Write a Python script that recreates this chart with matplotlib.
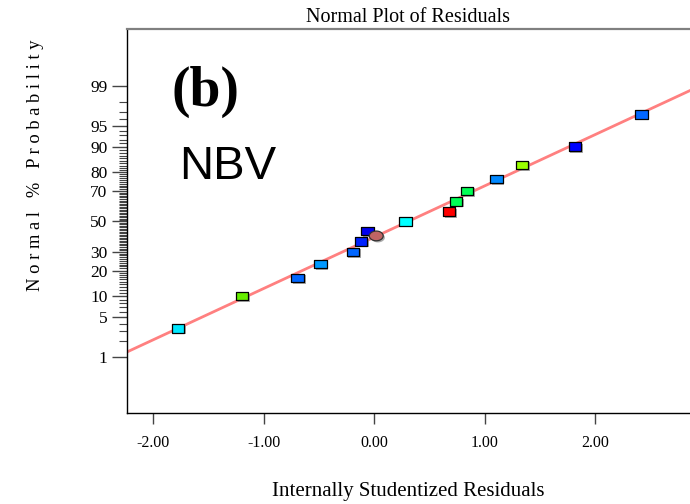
import numpy as np
import matplotlib
matplotlib.use("Agg")
import matplotlib.pyplot as plt
import matplotlib.patheffects as pe
from matplotlib.path import Path
from statistics import NormalDist

# residuals (x) and normal % probability (y)
res = [-1.776, -1.197, -0.694, -0.489, -0.193, -0.120, -0.063, 0.281,
       0.679, 0.739, 0.839, 1.107, 1.339, 1.816, 2.419]
prob = [3.33, 10.0, 16.67, 23.33, 30.0, 36.67, 43.33, 50.0,
        56.67, 63.33, 70.0, 76.67, 83.33, 90.0, 96.67]
colors = ['#00e8ff', '#66ee00', '#0066ff', '#0099ff', '#0066ff', '#0022ff', '#0000ee', '#00ffff',
          '#ff0000', '#00ff55', '#00ff55', '#0088ff', '#99ff00', '#0000ff', '#0066ff']

# the odd point drawn as a brown ellipse
odd_res = [0.018]
odd_prob = [40.2]

# reference line end points
line_res = [-2.24, 2.86]
line_prob = [1.26, 98.76]

yticks = [1, 5, 10, 20, 30, 50, 70, 80, 90, 95, 99]
xticks = [-2, -1, 0, 1, 2]

nd = NormalDist()
def fwd(p):
    p = np.clip(np.asarray(p, dtype=float) / 100.0, 1e-9, 1 - 1e-9)
    return np.vectorize(nd.inv_cdf)(p)
def inv(z):
    return np.vectorize(nd.cdf)(np.asarray(z, dtype=float)) * 100.0

plt.rcParams['font.family'] = ['Liberation Serif', 'DejaVu Serif']

fig = plt.figure(figsize=(6.9, 5.04), dpi=100)
ax = fig.add_axes([127/690, 1 - 413/504, 563/690, 384/504])
ax.set_yscale('function', functions=(fwd, inv))

ax.plot(line_res, line_prob, color='#ff8080', lw=2, zorder=2)

rect = Path([(-1, -0.68), (1, -0.68), (1, 0.68), (-1, 0.68), (-1, -0.68)],
            [Path.MOVETO, Path.LINETO, Path.LINETO, Path.LINETO, Path.CLOSEPOLY])
t = np.linspace(0, 2*np.pi, 60)
ell = Path(np.column_stack([np.cos(t), 0.7*np.sin(t)]))

shadow = [pe.SimplePatchShadow(offset=(1.2, -1.2), shadow_rgbFace='#888888', alpha=0.7), pe.Normal()]
sc = ax.scatter(res, prob, marker=rect, s=9.0**2, c=colors, edgecolors='black',
                linewidths=0.9, zorder=3)
sc.set_path_effects(shadow)
sc2 = ax.scatter(odd_res, odd_prob, marker=ell, s=10.0**2, c='#c06464', edgecolors='#333333',
                 linewidths=0.9, zorder=3)
sc2.set_path_effects(shadow)

ax.set_xlim(-2.24, 2.86)
ax.set_ylim(inv(-3.285), inv(3.30))

ax.set_yticks(yticks)
ax.set_yticklabels([str(v) for v in yticks])
ax.set_yticks([v for v in range(2, 99) if v not in yticks], minor=True)
ax.yaxis.set_minor_formatter(plt.NullFormatter())
ax.set_xticks(xticks)
ax.set_xticklabels(['%.2f' % v for v in xticks])
ax.xaxis.set_minor_locator(plt.NullLocator())

ax.tick_params(axis='y', which='major', length=11, width=1.0, color='#444444', labelsize=12.5, pad=3)
ax.tick_params(axis='y', which='minor', length=5.5, width=0.8, color='#444444')
ax.tick_params(axis='x', which='major', length=8, width=1.0, color='#444444', labelsize=11.5, pad=8)

ax.spines['right'].set_visible(False)
ax.spines['top'].set_color('#808080')
ax.spines['top'].set_linewidth(1.6)
ax.spines['left'].set_linewidth(1.0)
ax.spines['bottom'].set_linewidth(1.0)

ax.set_title('Normal Plot of Residuals', fontsize=14.5, pad=5)
ax.set_xlabel('Internally Studentized Residuals', fontsize=15, labelpad=22)
ax.set_ylabel('N o r m a l   %   P r o b a b i l i t y', fontsize=13.3)
ax.yaxis.set_label_coords(-0.148, 0.646)

ax.text(0.139, 0.835, '(b)', transform=ax.transAxes, fontsize=40, fontweight='bold',
        ha='center', va='center')
ax.text(0.179, 0.64, 'NBV', transform=ax.transAxes, fontsize=34,
        family=['Liberation Sans', 'DejaVu Sans'], ha='center', va='center')

fig.savefig('out.png', dpi=100)
